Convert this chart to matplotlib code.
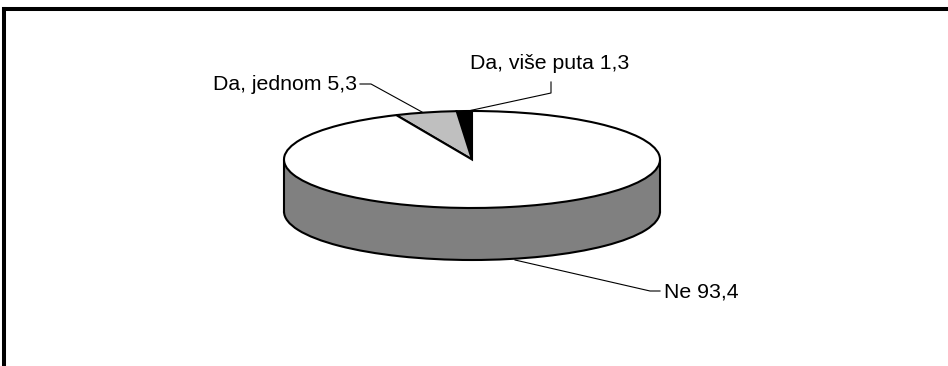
import matplotlib
matplotlib.use('Agg')
import matplotlib.pyplot as plt

# Data
categories = ['Da, više puta', 'Da, jednom', 'Ne']
values = [1.3, 5.3, 93.4]
colors = ['black', '#bfbfbf', 'white']
value_labels = ['1,3', '5,3', '93,4']

# pie geometry in pixels
W, H = 948, 366
cx, cy = 472, 159.5
rx, ry = 188, 48.5
depth = 52
lw = 1.5

plt.rcParams['font.family'] = ['Liberation Sans', 'DejaVu Sans']
fig = plt.figure(figsize=(W / 100, H / 100), dpi=100)
# only left and top of the frame are visible
ax = fig.add_axes([4 / W, 0, 1 - 4 / W, 1 - 9 / H])


def px(x, y):
    return (x - cx) / rx, (cy - y) / ry


# bottom of the cylinder, then the side, then the top
edge = {'edgecolor': 'black', 'linewidth': lw}
ax.pie([1], colors=['#808080'], center=(0, -depth / ry), radius=1,
       wedgeprops={**edge, 'zorder': 1}, frame=True)
ax.fill_between([-1, 1], [0, 0], [-depth / ry, -depth / ry], color='#808080', lw=0, zorder=2)
ax.plot([-1, -1], [0, -depth / ry], color='black', lw=lw, zorder=2)
ax.plot([1, 1], [0, -depth / ry], color='black', lw=lw, zorder=2)
ax.pie(values, colors=colors, startangle=90, center=(0, 0), radius=1,
       wedgeprops={**edge, 'zorder': 3, 'joinstyle': 'miter'}, frame=True)

ax.set_aspect('auto')
ax.set_xlim(px(4, 0)[0], px(W, 0)[0])
ax.set_ylim(px(0, H)[1], px(0, 9)[1])
ax.set_xticks([])
ax.set_yticks([])
ax.spines['right'].set_visible(False)
ax.spines['bottom'].set_visible(False)
ax.spines['left'].set_linewidth(2.9)
ax.spines['top'].set_linewidth(2.9)

# labels with leader lines
text_pos = [(470, 63), (213, 85), (664, 292)]
leaders = [
    [(551, 82), (551, 93), (468, 111)],
    [(360, 84), (371, 84), (422, 112)],
    [(515, 260), (650, 291), (660, 291)],
]
for name, val, pos, pts in zip(categories, value_labels, text_pos, leaders):
    x, y = px(*pos)
    ax.text(x, y, name + ' ' + val, fontsize=15.3, color='black', ha='left', va='center')
    p = [px(*q) for q in pts]
    ax.plot([q[0] for q in p], [q[1] for q in p], color='black', lw=0.8, zorder=4)

plt.savefig('out.png', dpi=100)
